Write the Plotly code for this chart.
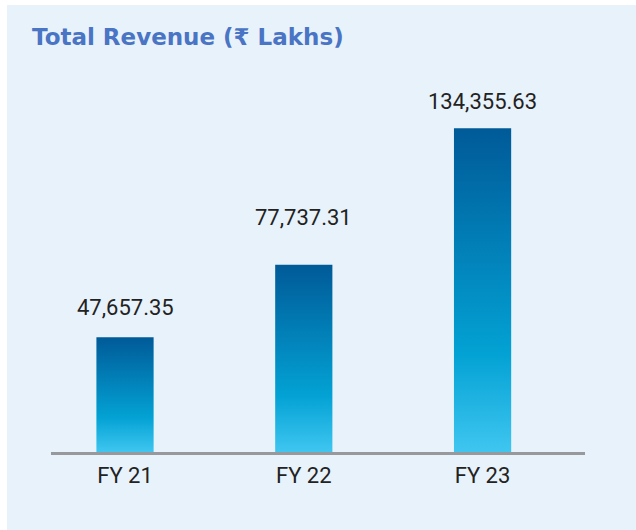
import plotly.graph_objects as go

years = ['FY 21', 'FY 22', 'FY 23']
revenue = [47657.35, 77737.31, 134355.63]
label_text = ['47,657.35', '77,737.31', '134,355.63']
label_shift = [15, 33, 12]

bar_w = 0.32
grad = [[0, '#3fc6f0'], [0.3, '#03a2d4'], [1, '#005a98']]
fig = go.Figure()

for i, v in enumerate(revenue):
    fig.add_trace(
        go.Scatter(
            x=[i - bar_w / 2, i + bar_w / 2, i + bar_w / 2, i - bar_w / 2, i - bar_w / 2],
            y=[0, 0, v, v, 0],
            mode='lines',
            line=dict(width=0),
            fill='toself',
            fillgradient=dict(type='vertical', colorscale=grad),
            hoverinfo='skip',
            showlegend=False,
        )
    )
    fig.add_annotation(
        x=i, y=v, text=label_text[i],
        showarrow=False, yanchor='bottom', yshift=label_shift[i],
        font=dict(family='Roboto', size=22, color='#222222'),
    )

fig.update_layout(
    width=636,
    height=530,
    paper_bgcolor='white',
    plot_bgcolor='rgba(0,0,0,0)',
    margin=dict(l=51, r=51, t=60, b=78),
    showlegend=False,
    title=dict(
        text='<b>Total Revenue (₹ Lakhs)</b>',
        x=32 / 636, xanchor='left', xref='container',
        y=1 - 37 / 530, yanchor='middle', yref='container',
        font=dict(family='DejaVu Sans', size=23, color='#4a74c4'),
    ),
    xaxis=dict(
        range=[-0.414, 2.573],
        tickvals=[0, 1, 2],
        ticktext=years,
        showgrid=False,
        zeroline=False,
        showline=True,
        linecolor='#97999c',
        linewidth=3,
        ticks='',
        ticklabelstandoff=2,
        tickfont=dict(family='Roboto', size=22, color='#222222'),
    ),
    yaxis=dict(
        range=[0, 162655],
        visible=False,
    ),
    shapes=[
        dict(type='rect', xref='paper', yref='paper',
             x0=(7 - 51) / 534, x1=1.2, y0=-0.3, y1=(452 - 5) / 392,
             fillcolor='#e8f2fb', line=dict(width=0), layer='below'),
    ],
)

fig.write_html('out.html', config={'displayModeBar': False},
               post_script="document.body.style.margin='0';")
